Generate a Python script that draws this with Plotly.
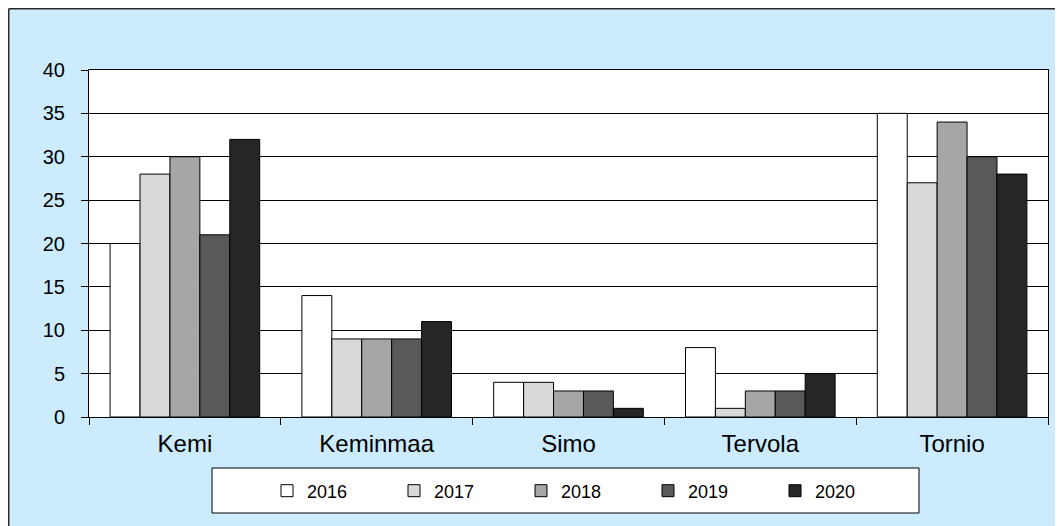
import plotly.graph_objects as go

categories = ["Kemi", "Keminmaa", "Simo", "Tervola", "Tornio"]
years = ["2016", "2017", "2018", "2019", "2020"]
v2016 = [20, 14, 4, 8, 35]
v2017 = [28, 9, 4, 1, 27]
v2018 = [30, 9, 3, 3, 34]
v2019 = [21, 9, 3, 3, 30]
v2020 = [32, 11, 1, 5, 28]
series = [v2016, v2017, v2018, v2019, v2020]
colors = ["#FFFFFF", "#D9D9D9", "#A6A6A6", "#595959", "#262626"]

OFF = 8  # default page (body) margin of the html page
W, H = 1063, 526 - OFF
ML, MR, MT, MB = 89 - OFF, 1063 + OFF - 1048, 70 - OFF, 109
PW = W - ML - MR
PH = H - MT - MB
BG = "#CCEBFC"


def px(x):
    """page pixel x -> paper coordinate"""
    return (x - OFF - ML) / PW


def py(y):
    """page pixel y -> paper coordinate"""
    return (OFF + H - MB - y) / PH


fig = go.Figure()
for name, vals, col in zip(years, series, colors):
    fig.add_trace(go.Bar(
        x=categories, y=vals, name=name,
        marker=dict(color=col, line=dict(color="#000000", width=1)),
    ))

shapes = [
    # chart border (top/left)
    dict(type="line", xref="paper", yref="paper", x0=px(OFF + 0.75), x1=px(1100), y0=py(OFF + 0.75), y1=py(OFF + 0.75),
         line=dict(color="#2a2a2a", width=1.5), layer="above"),
    dict(type="line", xref="paper", yref="paper", x0=px(OFF + 0.75), x1=px(OFF + 0.75), y0=py(OFF + 0.75), y1=py(600),
         line=dict(color="#2a2a2a", width=1.5), layer="above"),
    # legend box
    dict(type="rect", xref="paper", yref="paper", x0=px(212), x1=px(919), y0=py(468), y1=py(513),
         fillcolor="white", line=dict(color="#000000", width=1), layer="below"),
]

fig.update_layout(
    width=W, height=H,
    margin=dict(l=ML, r=MR, t=MT, b=MB, autoexpand=False),
    paper_bgcolor=BG,
    plot_bgcolor="white",
    barmode="group",
    bargap=0.22,
    bargroupgap=0,
    font=dict(family="Liberation Sans, Arial, sans-serif", color="#000000"),
    shapes=shapes,
    showlegend=True,
    legend=dict(
        orientation="h", x=px(267), xanchor="left", y=py(491), yanchor="middle",
        bgcolor="rgba(0,0,0,0)", borderwidth=0,
        font=dict(size=18, color="#000000"),
        entrywidth=82, entrywidthmode="pixels",
        itemclick=False, itemdoubleclick=False,
    ),
)

fig.update_xaxes(
    type="category",
    tickson="boundaries",
    ticks="outside", ticklen=7, tickwidth=1, tickcolor="#000000",
    showline=True, linecolor="#000000", linewidth=1, mirror=True,
    showgrid=False,
    tickfont=dict(size=24, color="#000000"),
    ticklabelstandoff=5,
)
fig.update_yaxes(
    range=[0, 40], dtick=5, tick0=0,
    ticks="outside", ticklen=7, tickwidth=1, tickcolor="#000000",
    showline=True, linecolor="#000000", linewidth=1, mirror=True,
    showgrid=True, gridcolor="#000000", gridwidth=1,
    zeroline=False,
    tickfont=dict(size=20, color="#000000"),
    ticklabelstandoff=12,
)

fig.write_html("out.html")
